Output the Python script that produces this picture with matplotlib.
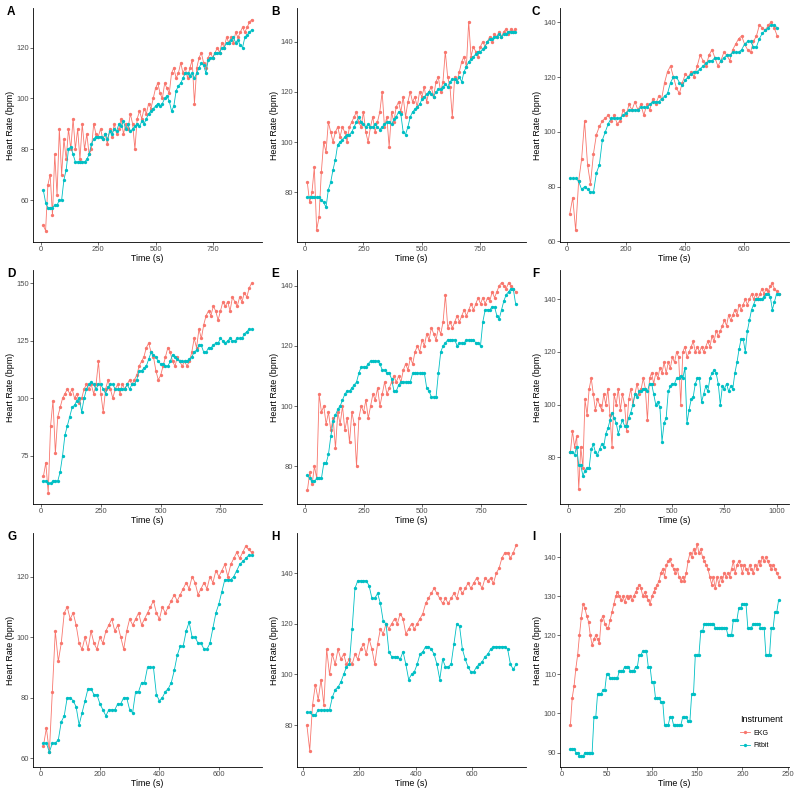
import numpy as np
import matplotlib.pyplot as plt
from matplotlib.lines import Line2D

plt.rcParams['font.family'] = ['Liberation Sans', 'DejaVu Sans']

EKG_COL = "#F8766D"
FIT_COL = "#00BFC4"

# ---- panel A ----
a_span = (10, 920)
a_ekg = [50, 48, 66, 70, 54, 78, 62, 88, 70, 84, 76, 88, 80, 92, 80, 88, 76, 90, 80, 86,
         78, 80, 90, 86, 85, 88, 84, 86, 82, 88, 85, 90, 86, 88, 92, 86, 90, 88, 94, 90,
         80, 92, 95, 92, 96, 94, 98, 96, 100, 104, 106, 102, 100, 106, 104, 102, 110, 112, 108, 110,
         114, 110, 112, 108, 112, 115, 98, 112, 116, 118, 114, 112, 116, 118, 116, 118, 120, 118, 122, 120,
         124, 122, 124, 122, 126, 124, 126, 128, 126, 128, 130, 131]
a_fit = [64, 59, 57, 57, 57, 58, 58, 60, 60, 68, 72, 80, 81, 78, 75, 75, 75, 75, 75, 76,
         78, 82, 84, 85, 85, 85, 84, 86, 84, 87, 86, 88, 87, 90, 89, 91, 88, 90, 87, 88,
         89, 90, 89, 91, 90, 92, 94, 95, 96, 97, 98, 97, 98, 100, 101, 99, 95, 97, 103, 105,
         106, 108, 110, 110, 109, 110, 108, 110, 112, 114, 113, 110, 115, 116, 116, 118, 118, 118, 120, 120,
         122, 122, 123, 124, 122, 123, 121, 120, 124, 125, 126, 127]

# ---- panel B ----
b_span = (10, 900)
b_ekg = [84, 76, 80, 90, 65, 70, 88, 100, 96, 108, 104, 100, 104, 106, 102, 106, 104, 100, 106, 108,
         110, 112, 108, 106, 112, 104, 100, 106, 110, 104, 108, 112, 120, 106, 110, 98, 112, 108, 114, 116,
         112, 118, 110, 116, 120, 116, 118, 114, 120, 118, 122, 116, 120, 122, 118, 124, 126, 120, 124, 136,
         126, 122, 110, 126, 124, 128, 132, 134, 130, 148, 134, 138, 136, 134, 138, 140, 138, 140, 142, 140,
         143, 142, 144, 142, 144, 145, 143, 145, 144, 145]
b_fit = [78, 78, 78, 78, 78, 78, 77, 76, 74, 81, 84, 89, 93, 99, 100, 101, 102, 103, 103, 104,
         106, 108, 110, 108, 107, 106, 107, 106, 106, 107, 106, 105, 106, 107, 108, 108, 107, 109, 110, 112,
         111, 104, 103, 106, 110, 112, 113, 114, 115, 117, 118, 119, 120, 119, 118, 120, 121, 121, 122, 123,
         122, 124, 125, 125, 124, 126, 124, 128, 130, 132, 133, 134, 135, 136, 136, 137, 138, 140, 141, 141,
         142, 142, 143, 142, 143, 143, 144, 144, 144, 144]

# ---- panel C ----
c_span = (10, 712)
c_ekg = [70, 76, 64, 82, 90, 104, 88, 81, 92, 99, 102, 104, 105, 106, 104, 106, 103, 104, 108, 106,
         110, 108, 111, 108, 110, 106, 110, 108, 112, 110, 113, 112, 118, 122, 124, 120, 116, 114, 118, 121,
         120, 122, 120, 124, 128, 126, 124, 128, 130, 127, 124, 126, 129, 128, 126, 130, 132, 134, 135, 132,
         130, 129, 133, 135, 139, 138, 137, 139, 140, 138, 135]
c_fit = [83, 83, 83, 82, 79, 80, 79, 78, 78, 85, 88, 97, 100, 103, 105, 105, 105, 105, 106, 107,
         108, 108, 108, 108, 109, 109, 109, 110, 111, 111, 111, 112, 113, 114, 118, 120, 120, 118, 117, 119,
         120, 121, 122, 122, 123, 124, 125, 126, 126, 127, 127, 126, 127, 128, 128, 129, 129, 129, 130, 132,
         133, 133, 131, 131, 134, 136, 137, 138, 139, 139, 138]

# ---- panel D ----
d_span = (10, 880)
d_ekg = [66, 72, 59, 88, 99, 76, 92, 96, 100, 102, 104, 102, 104, 100, 102, 98, 100, 104, 106, 104,
         106, 102, 106, 116, 102, 94, 104, 108, 104, 100, 104, 106, 102, 106, 104, 106, 108, 106, 108, 110,
         114, 116, 118, 122, 124, 120, 118, 112, 108, 110, 114, 118, 122, 120, 116, 114, 118, 116, 114, 116,
         114, 116, 120, 126, 122, 130, 126, 132, 136, 138, 136, 140, 138, 134, 138, 142, 140, 142, 138, 144,
         142, 140, 144, 142, 146, 144, 148, 150]
d_fit = [64, 64, 63, 63, 64, 64, 64, 68, 75, 84, 88, 92, 96, 97, 99, 100, 94, 100, 104, 106,
         107, 106, 104, 106, 106, 104, 102, 105, 106, 106, 104, 104, 104, 104, 104, 106, 104, 106, 106, 108,
         112, 112, 113, 114, 117, 120, 119, 118, 116, 115, 115, 114, 114, 116, 119, 118, 117, 116, 116, 116,
         116, 117, 118, 120, 121, 123, 123, 120, 120, 122, 122, 123, 124, 124, 126, 125, 124, 125, 126, 125,
         125, 126, 126, 126, 128, 129, 130, 130]

# ---- panel E ----
e_span = (10, 900)
e_ekg = [72, 78, 74, 80, 76, 104, 98, 100, 94, 98, 92, 96, 86, 98, 94, 100, 92, 96, 88, 98,
         94, 80, 96, 100, 98, 102, 96, 100, 104, 102, 106, 100, 104, 108, 104, 106, 108, 110, 108, 110,
         108, 112, 114, 112, 116, 114, 118, 120, 118, 122, 120, 124, 122, 126, 124, 122, 126, 124, 128, 137,
         126, 128, 126, 128, 130, 128, 130, 132, 130, 132, 134, 132, 134, 136, 134, 136, 134, 136, 135, 138,
         136, 138, 140, 141, 140, 139, 141, 140, 139, 138]
e_fit = [77, 76, 75, 75, 76, 76, 76, 81, 81, 84, 90, 95, 97, 99, 100, 102, 104, 105, 105, 106,
         107, 108, 111, 113, 113, 113, 114, 115, 115, 115, 115, 114, 112, 112, 111, 111, 109, 105, 105, 107,
         108, 108, 108, 108, 108, 111, 111, 111, 111, 111, 111, 106, 105, 103, 103, 103, 111, 118, 120, 121,
         122, 122, 122, 122, 120, 121, 121, 121, 122, 122, 122, 122, 121, 121, 120, 128, 132, 132, 132, 133,
         133, 130, 129, 132, 135, 137, 138, 139, 139, 134]

# ---- panel F ----
f_span = (10, 1010)
f_ekg = [82, 90, 84, 88, 68, 84, 76, 102, 96, 106, 110, 104, 98, 102, 100, 98, 104, 100, 106, 96,
         84, 104, 100, 106, 98, 104, 100, 90, 102, 106, 100, 104, 108, 104, 106, 110, 106, 94, 110, 112,
         108, 112, 110, 114, 112, 116, 112, 116, 114, 118, 116, 120, 118, 100, 120, 122, 118, 120, 122, 124,
         120, 122, 120, 122, 120, 122, 124, 122, 126, 124, 128, 126, 128, 130, 132, 130, 134, 132, 134, 136,
         134, 138, 136, 138, 140, 138, 140, 142, 140, 142, 140, 142, 144, 142, 144, 143, 145, 146, 144, 143,
         142]
f_fit = [82, 82, 81, 84, 77, 77, 73, 75, 76, 76, 83, 85, 82, 81, 83, 85, 84, 89, 91, 94,
         97, 95, 93, 89, 92, 94, 92, 92, 95, 97, 100, 104, 103, 105, 105, 106, 106, 105, 108, 108,
         104, 100, 101, 99, 86, 93, 95, 105, 107, 108, 108, 110, 110, 111, 110, 114, 93, 98, 102, 103,
         108, 110, 110, 101, 104, 107, 105, 110, 112, 113, 112, 108, 100, 107, 106, 108, 105, 107, 106, 112,
         116, 121, 125, 125, 120, 128, 132, 136, 138, 140, 140, 140, 140, 141, 142, 142, 141, 136, 139, 142,
         142]

# ---- panel G ----
g_span = (10, 710)
g_ekg = [64, 70, 62, 82, 102, 92, 98, 108, 110, 106, 108, 104, 98, 96, 100, 96, 102, 98, 96, 100,
         98, 102, 104, 106, 102, 104, 100, 96, 102, 106, 104, 106, 108, 104, 106, 108, 110, 112, 108, 106,
         110, 108, 110, 112, 114, 112, 114, 116, 118, 116, 120, 118, 114, 116, 118, 116, 120, 118, 122, 120,
         122, 124, 120, 124, 126, 128, 126, 128, 130, 129, 128]
g_fit = [65, 65, 62, 65, 65, 66, 72, 74, 80, 80, 79, 77, 71, 75, 79, 83, 83, 81, 81, 78,
         76, 74, 76, 76, 76, 78, 78, 80, 80, 76, 75, 82, 82, 85, 85, 90, 90, 90, 81, 79,
         80, 82, 83, 85, 89, 94, 97, 97, 102, 105, 100, 100, 98, 98, 96, 96, 98, 103, 108, 111,
         115, 119, 119, 119, 120, 122, 124, 125, 126, 127, 127]

# ---- panel H ----
h_span = (15, 755)
h_ekg = [80, 70, 88, 96, 90, 98, 88, 110, 100, 108, 104, 110, 106, 108, 104, 106, 104, 108, 106, 110,
         112, 108, 114, 110, 104, 112, 118, 116, 120, 118, 120, 122, 120, 124, 122, 116, 118, 120, 118, 120,
         122, 124, 128, 130, 132, 134, 132, 130, 128, 130, 128, 130, 132, 130, 134, 132, 134, 136, 134, 136,
         138, 136, 134, 138, 137, 138, 136, 140, 142, 146, 148, 148, 146, 148, 151]
h_fit = [85, 85, 84, 84, 86, 86, 86, 86, 86, 91, 94, 95, 97, 100, 103, 104, 118, 134, 137, 137,
         137, 137, 135, 130, 130, 132, 128, 121, 120, 109, 107, 107, 107, 106, 109, 104, 98, 100, 101, 104,
         108, 109, 111, 111, 110, 108, 104, 98, 106, 103, 103, 104, 112, 120, 119, 110, 106, 103, 101, 101,
         103, 104, 105, 107, 108, 110, 111, 111, 111, 111, 111, 110, 104, 102, 104]

# ---- panel I ----
i_span = (10, 240)
i_ekg = [97, 104, 107, 111.5, 115, 120, 124.5, 128, 127, 125, 123.5, 120, 117.5, 119, 120, 119, 118, 124, 125, 123,
         122, 122, 124, 126, 128, 130, 131, 130, 129, 130, 128.5, 130, 129.5, 130, 129, 130, 131, 132, 133, 132,
         130, 131, 130, 129, 128, 130, 131, 132, 133, 134, 136, 137, 135, 138, 139, 139.5, 138, 137, 136, 137,
         135, 134, 135, 134, 136, 139, 141, 140, 142, 141, 143.5, 141, 142, 140, 139, 138, 137, 135, 133, 135,
         132, 135, 133, 135, 134, 136, 135, 136, 135, 137, 139, 136, 138, 139, 138, 136, 138, 137, 136, 138,
         137, 136, 138, 137, 139, 138, 140, 139, 140, 139, 138, 137, 138, 137, 136, 135]
i_fit = [91, 91, 91, 90, 90, 89, 89, 89, 90, 90, 90, 90, 90, 99, 99, 105, 105, 105, 106, 106,
         110, 110, 109, 109, 109, 109, 109, 111, 111, 111, 112, 112, 112, 111, 111, 111, 112, 112, 115, 115,
         116, 116, 116, 112, 112, 108, 108, 104, 104, 104, 103, 103, 97, 97, 97, 99, 99, 97, 97, 97,
         97, 97, 99, 99, 99, 98, 98, 105, 105, 115, 115, 115, 121, 121, 123, 123, 123, 123, 123, 123,
         122, 122, 122, 122, 122, 122, 122, 120, 120, 120, 124, 124, 124, 127, 127, 128, 128, 128, 122, 122,
         122, 123, 123, 123, 123, 122, 122, 122, 115, 115, 115, 122, 122, 126, 126, 129]

panels = [
    ("A", a_span, a_ekg, a_fit, (-35, 965), (43.5, 135.6), [0, 250, 500, 750], [60, 80, 100, 120]),
    ("B", b_span, b_ekg, b_fit, (-34, 945), (60.2, 153.4), [0, 250, 500, 750], [80, 100, 120, 140]),
    ("C", c_span, c_ekg, c_fit, (-23, 752), (59.8, 145.2), [0, 200, 400, 600], [60, 80, 100, 120, 140]),
    ("D", d_span, d_ekg, d_fit, (-33.5, 923.5), (54.0, 155.8), [0, 250, 500, 750], [75, 100, 125, 150]),
    ("E", e_span, e_ekg, e_fit, (-34.5, 944.5), (67.5, 145.2), [0, 250, 500, 750], [80, 100, 120, 140]),
    ("F", f_span, f_ekg, f_fit, (-40, 1060), (62.3, 151.1), [0, 250, 500, 750, 1000], [80, 100, 120, 140]),
    ("G", g_span, g_ekg, g_fit, (-25, 745), (57.1, 134.4), [0, 200, 400, 600], [60, 80, 100, 120]),
    ("H", h_span, h_ekg, h_fit, (-20, 790), (63.5, 155.8), [0, 200, 400, 600], [80, 100, 120, 140]),
    ("I", i_span, i_ekg, i_fit, (-1.5, 251.5), (86.3, 146.2), [0, 50, 100, 150, 200, 250], [90, 100, 110, 120, 130, 140]),
]

W, H = 800, 796
fig = plt.figure(figsize=(8, 7.96), dpi=100)

col_left = [33, 297, 560]
row_top = [8, 270, 533]
ax_w, ax_h = 229, 234
letter_x = [7, 271, 532]

for k, (name, span, ekg, fit, xl, yl, xt, yt) in enumerate(panels):
    r, c = divmod(k, 3)
    ax = fig.add_axes([col_left[c] / W, 1 - (row_top[r] + ax_h) / H, ax_w / W, ax_h / H])
    t_ekg = np.linspace(span[0], span[1], len(ekg))
    t_fit = np.linspace(span[0], span[1], len(fit))
    ax.plot(t_ekg, ekg, color=EKG_COL, lw=0.6, marker='o', ms=2.4, mew=0)
    ax.plot(t_fit, fit, color=FIT_COL, lw=0.6, marker='o', ms=2.4, mew=0)
    ax.set_xlim(xl)
    ax.set_ylim(yl)
    ax.set_xticks(xt)
    ax.set_yticks(yt)
    for s in ['top', 'right']:
        ax.spines[s].set_visible(False)
    for s in ['left', 'bottom']:
        ax.spines[s].set_linewidth(0.6)
    ax.tick_params(direction='out', length=2, width=0.5, color='#333333',
                   labelcolor='#4d4d4d', labelsize=5.5, pad=0.8)
    ax.set_xlabel("Time (s)", fontsize=6.4)
    ax.set_ylabel("Heart Rate (bpm)", fontsize=6.4)
    ax.xaxis.set_label_coords(0.5, -0.053)
    ax.yaxis.set_label_coords(-0.078, 0.5)
    fig.text(letter_x[c] / W, 1 - (row_top[r] + 4) / H, name, fontsize=8.5,
             fontweight='bold', ha='left', va='center')
    if name == "I":
        handles = [Line2D([], [], color=EKG_COL, lw=0.6, marker='o', ms=2.4, mew=0),
                   Line2D([], [], color=FIT_COL, lw=0.6, marker='o', ms=2.4, mew=0)]
        ax.legend(handles, ["EKG", "Fitbit"], title="Instrument", loc='upper left',
                  bbox_to_anchor=(740 / W, 1 - 715 / H), bbox_transform=fig.transFigure,
                  frameon=False, fontsize=5, title_fontsize=6.5, handlelength=1.5,
                  handletextpad=0.4, labelspacing=0.8, borderpad=0, borderaxespad=0,
                  alignment='left')

fig.savefig("out.png", dpi=100)
